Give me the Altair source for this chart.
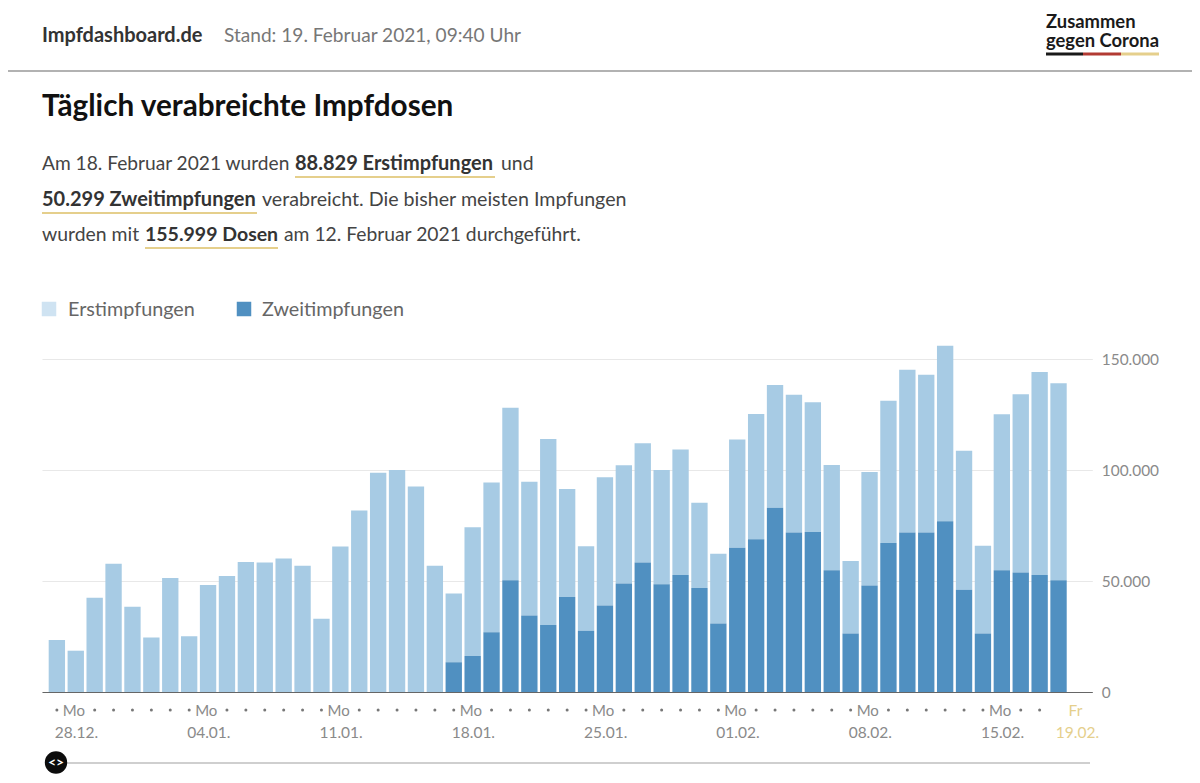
import altair as alt
import pandas as pd

FONT = "Lato"
days = [d.strftime("%d.%m.") for d in pd.date_range("2020-12-27", "2021-02-18")]
axis_end = "19.02."
first_doses = [23400, 18600, 42500, 57800, 38400, 24500, 51400, 25100, 48200, 52300,
               58600, 58300, 60100, 56900, 33000, 65500, 81800, 98800, 100000, 92600,
               56900, 31000, 58000, 67500, 77700, 60200, 83800, 48600, 38000, 57700,
               53200, 53700, 51500, 56500, 38500, 31400, 48700, 56400, 55300, 62000,
               58400, 47500, 32600, 51100, 64100, 73300, 71000, 79099, 62600, 39500,
               70300, 80300, 91400, 88829]
second_doses = [0] * 21 + [13400, 16200, 26900, 50300, 34500, 30200, 42800, 27600, 39000,
                48900, 58300, 48500, 52700, 46800, 30900, 65000, 68800, 83000, 71900,
                72100, 54800, 26400, 48000, 67100, 71900, 71900, 76900, 46100, 26400,
                54800, 53800, 52700, 50299]
series = ["Erstimpfungen", "Zweitimpfungen"]
bar_colors = ["#a7cbe4", "#5090c1"]
swatch_colors = ["#cfe3f2", "#5090c1"]
y_ticks = [0, 50000, 100000, 150000]
monday_slots = days[0::7]
monday_dates = ["28.12.", "04.01.", "11.01.", "18.01.", "25.01.", "01.02.", "08.02.", "15.02."]
dot_slots = [d for i, d in enumerate(days[:-1]) if i % 7 != 1]

rows = []
for d, a, b in zip(days, first_doses, second_doses):
    rows.append({"tag": d, "serie": series[0], "wert": a, "rang": 1})
    rows.append({"tag": d, "serie": series[1], "wert": b, "rang": 0})
bars_df = pd.DataFrame(rows)

GREY, BODY, GOLD = "#8a8a8a", "#444444", "#e5cf8c"


def px(x):
    return x - 42


def py(y):
    return y - 359


def label(s, x, y, size=19.4, weight="normal", color=BODY, align="left"):
    return alt.Chart(alt.Data(values=[{"t": s}])).mark_text(
        font=FONT, fontSize=size, fontWeight=weight, color=color, align=align, baseline="alphabetic",
        lineBreak="\n", lineHeight=19,
    ).encode(x=alt.value(px(x)), y=alt.value(py(y)), text="t:N")


def stroke(x1, x2, y, color, width):
    return alt.Chart(alt.Data(values=[{"k": 1}])).mark_rule(color=color, strokeWidth=width).encode(
        x=alt.value(px(x1)), x2=alt.value(px(x2)), y=alt.value(py(y))
    )


def swatch(x, y, color):
    return alt.Chart(alt.Data(values=[{"k": 1}])).mark_square(size=210, color=color, opacity=1).encode(
        x=alt.value(px(x)), y=alt.value(py(y))
    )


x_enc = alt.X(
    "tag:N",
    scale=alt.Scale(domain=days + [axis_end], paddingInner=0.135, paddingOuter=0.354),
    axis=alt.Axis(labels=False, ticks=False, domain=True, domainColor="#666666", domainWidth=1.2,
                  grid=False, title=None),
)

bars = alt.Chart(bars_df).mark_bar().encode(
    x=x_enc,
    y=alt.Y(
        "wert:Q",
        stack="zero",
        scale=alt.Scale(domain=[0, 150000], nice=False),
        axis=alt.Axis(
            orient="right", values=y_ticks, title=None, domain=False, ticks=False, grid=True,
            gridColor="#e8e8e8", gridWidth=1.2, labelPadding=9, labelFont=FONT, labelFontSize=15.4,
            labelColor=GREY, labelExpr="replace(format(datum.value, ',d'), ',', '.')",
        ),
    ),
    color=alt.Color("serie:N", scale=alt.Scale(domain=series, range=bar_colors), legend=None),
    order=alt.Order("rang:Q"),
)

dots = alt.Chart(pd.DataFrame({"tag": dot_slots})).mark_circle(size=9, color="#777777", opacity=1).encode(
    x=x_enc, y=alt.value(py(710))
)
mo = alt.Chart(pd.DataFrame({"tag": monday_slots, "t": ["Mo"] * len(monday_slots)})).mark_text(
    font=FONT, fontSize=15, color=GREY, align="left", baseline="alphabetic", dx=6
).encode(x=x_enc, y=alt.value(py(716)), text="t:N")
dates = alt.Chart(pd.DataFrame({"tag": monday_slots, "t": monday_dates})).mark_text(
    font=FONT, fontSize=15.5, color=GREY, align="left", baseline="alphabetic", dx=-2
).encode(x=x_enc, y=alt.value(py(738)), text="t:N")
end_fr = alt.Chart(pd.DataFrame({"tag": [axis_end], "t": ["Fr"]})).mark_text(
    font=FONT, fontSize=15.5, color=GOLD, align="center", baseline="alphabetic", dx=-2
).encode(x=x_enc, y=alt.value(py(716)), text="t:N")
end_date = alt.Chart(pd.DataFrame({"tag": [axis_end], "t": [axis_end]})).mark_text(
    font=FONT, fontSize=15.5, color=GOLD, align="center", baseline="alphabetic"
).encode(x=x_enc, y=alt.value(py(738)), text="t:N")

knob = alt.Chart(alt.Data(values=[{"k": 1}])).mark_circle(size=500, color="#0c0c0c", opacity=1).encode(
    x=alt.value(px(56)), y=alt.value(py(762.5))
)

chrome = [
    stroke(0, 1200, 71, "#666666", 1.2),
    label("Impfdashboard.de", 42, 42, 20, "bold", "#333333"),
    label("Stand: 19. Februar 2021, 09:40 Uhr", 224, 42, 19.1, "normal", "#777777"),
    label("Zusammen\ngegen Corona", 1046, 28, 18.4, "bold", "#1a1a1a"),
    stroke(1046, 1083, 54, "#1a1a1a", 3),
    stroke(1083, 1121, 54, "#b23a32", 3),
    stroke(1121, 1159, 54, GOLD, 3),
    label("Täglich verabreichte Impfdosen", 42, 116, 29.7, "bold", "#111111"),
    label("Am 18. Februar 2021 wurden", 42, 170, 19.15),
    label("88.829 Erstimpfungen", 295, 170, 20, "bold", "#333333"),
    label("und", 501, 170),
    stroke(295, 495, 177, GOLD, 2.2),
    label("50.299 Zweitimpfungen", 42, 206, 20, "bold", "#333333"),
    label("verabreicht. Die bisher meisten Impfungen", 262, 206, 19.65),
    stroke(42, 257, 213, GOLD, 2.2),
    label("wurden mit", 42, 241),
    label("155.999 Dosen", 145, 241, 19.5, "bold", "#333333"),
    label("am 12. Februar 2021 durchgeführt.", 284, 241, 19.3),
    stroke(145, 278, 248, GOLD, 2.2),
    swatch(49, 309, swatch_colors[0]),
    label(series[0], 68, 316, 19.8, "normal", "#666666"),
    swatch(244, 309, swatch_colors[1]),
    label(series[1], 262, 316, 19.8, "normal", "#666666"),
    stroke(56, 1090, 763, "#cfcfcf", 2),
    knob,
    label("<>", 56, 767, 14, "bold", "#ffffff", "center"),
]

chart = alt.layer(bars, dots, mo, dates, end_fr, end_date, *chrome).properties(
    width=1050.3,
    height=333,
    autosize=alt.AutoSizeParams(type="none"),
    padding={"left": 34, "top": 351, "right": 99.7, "bottom": 83},
    background="#ffffff",
).configure_view(stroke=None)

chart.save("out.html", embed_options={"renderer": "svg", "actions": False})
